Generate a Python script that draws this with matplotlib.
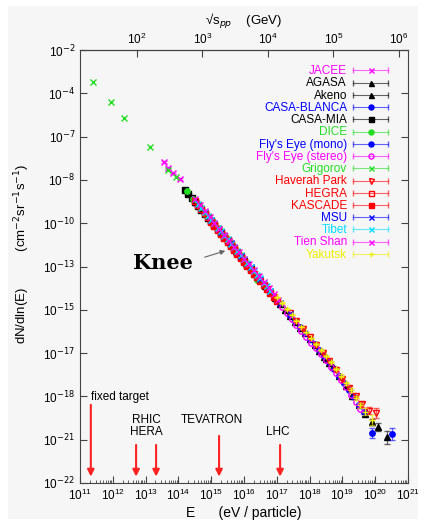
import numpy as np
import matplotlib.pyplot as plt
from matplotlib.lines import Line2D
from matplotlib.patches import Rectangle
from matplotlib.ticker import LogLocator, NullLocator, NullFormatter
from matplotlib.legend_handler import HandlerLine2D, HandlerTuple

plt.rcParams['font.family'] = ['Liberation Sans', 'DejaVu Sans']

# log10(E / eV), log10(flux), log10 error per experiment
jacee_E = [13.55, 13.68, 13.85, 14.05, 14.30, 14.55, 14.80]
jacee_F = [-9.76, -10.18, -10.55, -10.94, -11.95, -12.60, -13.35]
jacee_err = [0.05, 0.05, 0.05, 0.06, 0.08, 0.10, 0.15]

agasa_E = [18.5, 18.7, 18.9, 19.1, 19.3, 19.5, 19.7, 19.9, 20.1, 20.35]
agasa_F = [-23.40, -23.95, -24.60, -25.25, -25.95, -26.60, -27.25, -27.75, -28.13, -28.82]
agasa_err = [0.05, 0.05, 0.06, 0.07, 0.08, 0.10, 0.14, 0.20, 0.30, 0.45]

akeno_E = [15.6, 15.75, 15.9, 16.05, 16.2, 16.35, 16.5, 16.65, 16.8, 16.95, 17.1,
           17.25, 17.4, 17.55, 17.7, 17.85, 18.0, 18.15, 18.3, 18.45, 18.6]
akeno_F = [-15.51, -15.92, -16.33, -16.74, -17.15, -17.55, -17.96, -18.37, -18.78, -19.19, -19.60,
           -20.00, -20.41, -20.82, -21.23, -21.64, -22.04, -22.45, -22.86, -23.27, -23.70]

blanca_E = [15.5, 15.7, 15.9, 16.1, 16.3, 16.5, 16.64, 16.9]
blanca_F = [-15.30, -15.85, -16.40, -16.95, -17.45, -18.00, -18.29, -19.10]

mia_E = [14.2, 14.3, 14.4, 14.5, 14.6, 14.7, 14.8, 14.9, 15.0, 15.1, 15.2,
         15.3, 15.4, 15.5, 15.6, 15.7, 15.8, 15.9, 16.0, 16.1, 16.2]
mia_F = [-11.70, -11.98, -12.25, -12.52, -12.79, -13.06, -13.34, -13.61, -13.88, -14.15, -14.42,
         -14.70, -14.97, -15.24, -15.51, -15.78, -16.06, -16.33, -16.60, -16.87, -17.14]

dice_E = [14.25, 14.45, 14.65, 14.85, 15.05, 15.25, 15.45, 15.65, 15.85, 16.40]
dice_F = [-11.75, -12.30, -12.85, -13.40, -13.95, -14.50, -15.05, -15.55, -16.10, -17.95]

fmono_E = [17.4, 17.55, 17.7, 17.85, 18.0, 18.15, 18.3, 18.45, 18.6, 18.75, 18.9,
           19.05, 19.2, 19.35, 19.5, 19.65, 19.9, 20.5]
fmono_F = [-20.36, -20.77, -21.17, -21.58, -21.99, -22.40, -22.81, -23.21, -23.65, -24.10, -24.57,
           -25.06, -25.56, -26.07, -26.60, -27.07, -28.54, -28.61]
fmono_err = [0.04, 0.04, 0.04, 0.05, 0.05, 0.05, 0.06, 0.06, 0.07, 0.07, 0.08,
             0.09, 0.10, 0.12, 0.14, 0.18, 0.35, 0.40]

fstereo_E = [17.0, 17.15, 17.3, 17.45, 17.6, 17.75, 17.9, 18.05, 18.2, 18.35, 18.5,
             18.65, 18.8, 18.95, 19.1, 19.25, 19.4, 19.55]
fstereo_F = [-19.42, -19.83, -20.24, -20.64, -21.05, -21.46, -21.87, -22.28, -22.68, -23.09, -23.50,
             -23.95, -24.40, -24.89, -25.38, -25.88, -26.40, -26.90]

grig_E = [11.40, 11.95, 12.34, 13.12, 13.68, 13.93]
grig_F = [-4.22, -5.60, -6.71, -8.70, -10.32, -10.80]

haverah_E = [17.4, 17.6, 17.8, 18.0, 18.2, 18.4, 18.6, 18.8, 19.0, 19.2, 19.4, 19.6, 19.8, 20.02]
haverah_F = [-20.25, -20.78, -21.32, -21.85, -22.42, -22.98, -23.55, -24.15, -24.78, -25.40,
             -26.00, -26.55, -27.00, -27.16]
haverah_err = [0.04, 0.04, 0.05, 0.05, 0.05, 0.06, 0.06, 0.07, 0.08, 0.10, 0.12, 0.16, 0.25, 0.35]

hegra_E = [14.5, 14.6, 14.7, 14.8, 14.9, 15.0, 15.1, 15.2, 15.3, 15.4, 15.5, 15.6, 15.7, 15.8, 15.9]
hegra_F = [-12.47, -12.74, -13.01, -13.29, -13.56, -13.83, -14.10, -14.37, -14.65, -14.92,
           -15.19, -15.46, -15.73, -16.01, -16.28]

kascade_E = [15.0, 15.1, 15.2, 15.3, 15.4, 15.5, 15.6, 15.7, 15.8, 15.9, 16.0,
             16.1, 16.2, 16.3, 16.4, 16.5, 16.6, 16.7, 16.8, 16.9, 17.0]
kascade_F = [-13.95, -14.22, -14.49, -14.77, -15.04, -15.31, -15.58, -15.85, -16.13, -16.40, -16.67,
             -16.94, -17.21, -17.49, -17.76, -18.03, -18.30, -18.57, -18.85, -19.12, -19.39]

msu_E = [15.0, 15.3, 15.6, 15.9, 16.2, 16.5, 16.8, 17.1, 17.4]
msu_F = [-13.80, -14.60, -15.40, -16.25, -17.05, -17.85, -18.70, -19.50, -20.30]

tibet_E = [14.6, 14.7, 14.8, 14.9, 15.0, 15.1, 15.2, 15.3, 15.4, 15.5, 15.6, 15.7,
           15.8, 15.9, 16.0, 16.1, 16.2, 16.3, 16.4, 16.5, 16.6, 16.7, 16.8]
tibet_F = [-12.69, -12.92, -13.24, -13.47, -13.78, -14.01, -14.32, -14.56, -14.87, -15.10, -15.41,
           -15.64, -15.96, -16.19, -16.50, -16.73, -17.04, -17.28, -17.59, -17.82, -18.13,
           -18.36, -18.68]

tien_E = [14.5, 14.65, 14.8, 14.95, 15.1, 15.25, 15.4, 15.55, 15.7, 15.85, 16.0,
          16.15, 16.3, 16.45, 16.6, 16.75, 16.9, 17.05]
tien_F = [-12.35, -12.74, -13.15, -13.56, -13.97, -14.38, -14.80, -15.20, -15.62, -16.03, -16.45,
          -16.86, -17.27, -17.68, -18.09, -18.50, -18.92, -19.33]

yak_E = [17.0, 17.15, 17.3, 17.45, 17.6, 17.75, 17.9, 18.05, 18.2, 18.35, 18.5,
         18.65, 18.8, 18.95, 19.1, 19.25, 19.4, 19.55, 19.7, 19.9]
yak_F = [-19.12, -19.53, -19.94, -20.34, -20.75, -21.16, -21.57, -21.98, -22.38, -22.79, -23.20,
         -23.65, -24.10, -24.57, -25.08, -25.57, -26.10, -26.62, -27.07, -27.65]
yak_err = [0.04, 0.04, 0.04, 0.04, 0.05, 0.05, 0.05, 0.05, 0.06, 0.06, 0.07,
           0.07, 0.08, 0.09, 0.10, 0.12, 0.14, 0.18, 0.24, 0.35]

# y tick labels as printed on the original
ytick_labels = ['10$^{-2}$', '10$^{-4}$', '10$^{-7}$', '10$^{-8}$', '10$^{-10}$', '10$^{-13}$',
                '10$^{-15}$', '10$^{-17}$', '10$^{-18}$', '10$^{-21}$', '10$^{-22}$']

# accelerators: name, log10(E), arrow start log10(flux)
acc_names = ['fixed target', 'RHIC', 'HERA', 'TEVATRON', 'LHC']
acc_E = [11.33, 12.71, 13.32, 15.24, 17.10]
acc_top = [-26.39, -29.17, -29.17, -28.54, -29.17]

experiments = [
    ('JACEE', jacee_E, jacee_F, jacee_err, '#ff00ff', 'x', None),
    ('AGASA', agasa_E, agasa_F, agasa_err, 'black', '^', None),
    ('Akeno', akeno_E, akeno_F, None, 'black', '^', None),
    ('CASA-BLANCA', blanca_E, blanca_F, None, '#0000ff', 'o', None),
    ('CASA-MIA', mia_E, mia_F, None, 'black', 's', None),
    ('DICE', dice_E, dice_F, None, '#22dd22', 'o', None),
    ("Fly's Eye (mono)", fmono_E, fmono_F, fmono_err, '#0000ff', 'o', None),
    ("Fly's Eye (stereo)", fstereo_E, fstereo_F, None, '#ff00ff', 'o', 'none'),
    ('Grigorov', grig_E, grig_F, None, '#22dd22', 'x', None),
    ('Haverah Park', haverah_E, haverah_F, haverah_err, '#ff0000', 'v', 'none'),
    ('HEGRA', hegra_E, hegra_F, None, '#ff0000', 's', 'none'),
    ('KASCADE', kascade_E, kascade_F, None, '#ff0000', 's', None),
    ('MSU', msu_E, msu_F, None, '#0000ff', 'x', None),
    ('Tibet', tibet_E, tibet_F, None, '#00ddff', 'x', None),
    ('Tien Shan', tien_E, tien_F, None, '#ff00ff', 'x', None),
    ('Yakutsk', yak_E, yak_F, yak_err, '#eeee00', '+', None),
]

bg = '#f6f6f6'
fig = plt.figure(figsize=(4.24, 5.25), dpi=100)
fig.patch.set_facecolor('white')
fig.patches.append(Rectangle((8 / 424, 6 / 525), 410 / 424, 513 / 525,
                             transform=fig.transFigure, facecolor=bg,
                             edgecolor='none', zorder=-10))
ax = fig.add_axes([80 / 424, 42 / 525, 328 / 424, 433 / 525])
ax.set_facecolor(bg)

for name, E, F, err, c, mk, mfc in experiments:
    x = 10.0 ** np.array(E)
    y = 10.0 ** np.array(F)
    if err is not None:
        e = np.array(err)
        yerr = [y - y * 10.0 ** (-e), y * 10.0 ** e - y]
        ax.errorbar(x, y, yerr=yerr, fmt='none', ecolor=c, elinewidth=0.8,
                    capsize=2, alpha=0.6)
    ax.plot(x, y, ls='none', marker=mk, color=c, ms=3.9, mew=1.0,
            mfc=c if mfc is None else mfc)

ax.set_xscale('log')
ax.set_yscale('log')
ax.set_xlim(1e11, 1e21)
ax.set_ylim(1e-32, 1e-2)
ax.set_xticks([10.0 ** k for k in range(11, 22)])
ax.xaxis.set_minor_locator(LogLocator(base=10, subs=range(2, 10), numticks=30))
ax.xaxis.set_minor_formatter(NullFormatter())
ax.set_yticks([10.0 ** (-2 - 3 * k) for k in range(11)])
ax.set_yticklabels(ytick_labels)
ax.yaxis.set_minor_locator(NullLocator())
ax.tick_params(which='both', direction='in', right=True, top=False,
               labelsize=8.5, color='#444444')
ax.tick_params(which='major', length=5)
ax.tick_params(which='minor', length=2.5)
for s in ax.spines.values():
    s.set_color('#444444')

ax.set_xlabel('E      (eV / particle)', fontsize=10, labelpad=2)
ax.set_ylabel('dN/dln(E)          (cm$^{-2}$sr$^{-1}$s$^{-1}$)', fontsize=9.5)
ax.yaxis.set_label_coords(-0.145, 0.53)

m_p = 0.938e9
sec = ax.secondary_xaxis('top', functions=(
    lambda E: np.sqrt(2 * m_p * np.clip(E, 1e-30, None)) / 1e9,
    lambda s: (np.clip(s, 1e-30, None) * 1e9) ** 2 / (2 * m_p)))
sec.set_xticks([1e2, 1e3, 1e4, 1e5, 1e6])
sec.xaxis.set_minor_locator(NullLocator())
sec.tick_params(direction='in', length=5, labelsize=8.5, color='#444444', pad=2)
sec.set_xlabel('√s$_{pp}$    (GeV)', fontsize=9.5, labelpad=5)

# knee
ax.annotate('', xy=(10 ** 15.51, 10 ** -15.86), xytext=(10 ** 14.72, 10 ** -16.41),
            arrowprops=dict(arrowstyle='-|>', color='#666666', lw=0.8,
                            mutation_scale=7))
ax.text(10 ** 13.53, 10 ** -16.76, 'Knee', family=['DejaVu Serif'],
        fontweight='bold', fontsize=15, ha='center', va='center')

# accelerator arrows
for name, E, top in zip(acc_names, acc_E, acc_top):
    ax.annotate('', xy=(10 ** E, 10 ** -31.75), xytext=(10 ** E, 10 ** top),
                arrowprops=dict(arrowstyle='-|>', color='#ff2222', lw=1.5,
                                mutation_scale=10))
ax.text(10 ** 11.34, 10 ** -26.05, 'fixed target', fontsize=8.5, ha='left', va='center')
ax.text(10 ** 13.01, 10 ** -27.64, 'RHIC', fontsize=8.5, ha='center', va='center')
ax.text(10 ** 13.01, 10 ** -28.47, 'HERA', fontsize=8.5, ha='center', va='center')
ax.text(10 ** 15.02, 10 ** -27.64, 'TEVATRON', fontsize=8.5, ha='center', va='center')
ax.text(10 ** 17.04, 10 ** -28.47, 'LHC', fontsize=8.5, ha='center', va='center')

# legend with horizontal error-bar style handles
handles, labels, hmap = [], [], {}
for name, E, F, err, c, mk, mfc in experiments:
    cap = Line2D([], [], color=c, lw=0.8, alpha=0.6, marker='|', ms=5, ls='-')
    dot = Line2D([], [], color=c, marker=mk, ms=3.6, mew=1.0, ls='none',
                 mfc=c if mfc is None else mfc)
    hmap[cap] = HandlerLine2D(numpoints=2, marker_pad=0)
    hmap[dot] = HandlerLine2D(numpoints=1)
    handles.append((cap, dot))
    labels.append(name)
hmap[tuple] = HandlerTuple(ndivide=1)
leg = ax.legend(handles, labels, handler_map=hmap, loc='upper right',
                bbox_to_anchor=(0.94, 0.965), frameon=False, markerfirst=False,
                fontsize=8.5, labelspacing=0.02, handlelength=3.0,
                handleheight=0.5, handletextpad=0.5, borderpad=0,
                borderaxespad=0)
for t, (name, E, F, err, c, mk, mfc) in zip(leg.get_texts(), experiments):
    t.set_color(c)

fig.savefig('out.png', dpi=100, facecolor='white')
